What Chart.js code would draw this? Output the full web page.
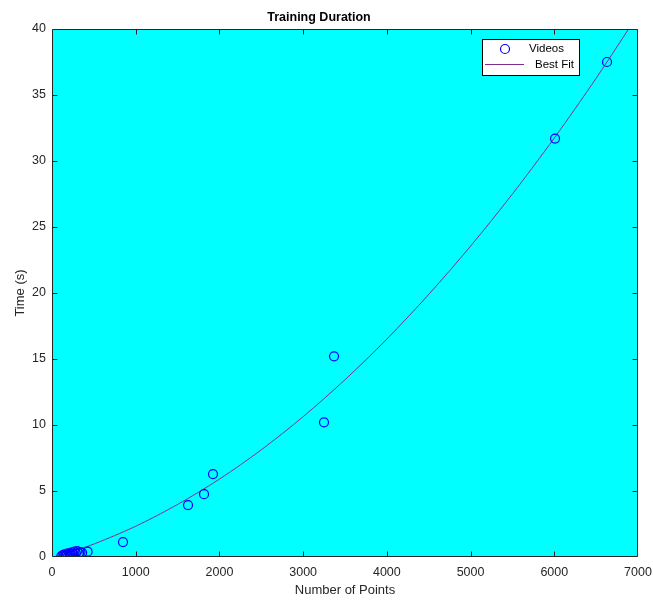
<!DOCTYPE html>
<html>
<head>
<meta charset="utf-8">
<title>Training Duration</title>
<script src="https://cdn.jsdelivr.net/npm/chart.js@4/dist/chart.umd.min.js"></script>
<style>
    html, body { margin: 0; padding: 0; background: #ffffff; }
    canvas { display: block; }
</style>
</head>
<body>
<canvas id="trainingChart" width="653" height="607"></canvas>
<script>
// Mesures : nombre de points par vidéo et temps d'entraînement (s)
const videoPoints = [110, 125, 140, 150, 165, 180, 195, 210, 225, 240, 255, 270, 285, 300, 320, 340, 360, 425,
    848, 1625, 1816, 1923, 3249, 3369, 6009, 6630];
const videoTimes = [0.05, 0.12, 0.08, 0.20, 0.15, 0.25, 0.12, 0.30, 0.20, 0.35, 0.22, 0.40, 0.28, 0.45, 0.30, 0.38, 0.32, 0.40,
    1.13, 3.93, 4.76, 6.28, 10.2, 15.2, 31.7, 37.5];

// Courbe d'ajustement (valeurs relevées tous les 500 points)
const fitPoints = [100, 500, 1000, 1500, 2000, 2500, 3000, 3500, 4000, 4500, 5000, 5500, 6000, 6500, 7000];
const fitTimes = [0.11, 0.98, 2.33, 3.98, 5.90, 8.12, 10.63, 13.43, 16.51, 19.89, 23.55, 27.50, 31.74, 36.27, 41.09];

// Axes
const xMin = 0, xMax = 7000, xStep = 1000;
const yMin = 0, yMax = 40, yStep = 5;

document.addEventListener('DOMContentLoaded', function () {

    const axisColor = '#262626';
    const plotBackground = '#00ffff';
    const fontFamily = '"Liberation Sans", Arial, Helvetica, sans-serif';

    // Fond cyan, cadre complet, graduations vers l'intérieur et légende encadrée
    const matlabAxes = {
        id: 'matlabAxes',
        beforeDatasetsDraw(chart) {
            const { ctx, chartArea: a } = chart;
            ctx.save();
            ctx.fillStyle = plotBackground;
            ctx.fillRect(a.left, a.top, a.right - a.left, a.bottom - a.top);
            ctx.restore();
        },
        afterDraw(chart) {
            const { ctx, chartArea: a, scales } = chart;
            const tickLen = 5;
            const left = Math.round(a.left) + 0.5, right = Math.round(a.right) - 0.5;
            const top = Math.round(a.top) + 0.5, bottom = Math.round(a.bottom) - 0.5;
            ctx.save();
            ctx.strokeStyle = axisColor;
            ctx.lineWidth = 1;
            ctx.beginPath();
            ctx.rect(left, top, right - left, bottom - top);
            ctx.stroke();

            ctx.beginPath();
            scales.x.ticks.forEach(t => {
                const px = Math.round(scales.x.getPixelForValue(t.value)) + 0.5;
                if (px <= left + 1 || px >= right - 1) return;
                ctx.moveTo(px, bottom);
                ctx.lineTo(px, bottom - tickLen);
                ctx.moveTo(px, top);
                ctx.lineTo(px, top + tickLen);
            });
            scales.y.ticks.forEach(t => {
                const py = Math.round(scales.y.getPixelForValue(t.value)) + 0.5;
                if (py <= top + 1 || py >= bottom - 1) return;
                ctx.moveTo(left, py);
                ctx.lineTo(left + tickLen, py);
                ctx.moveTo(right, py);
                ctx.lineTo(right - tickLen, py);
            });
            ctx.stroke();

            // Légende
            const box = { x: 482, y: 39, w: 97, h: 36 };
            ctx.fillStyle = '#ffffff';
            ctx.fillRect(box.x, box.y, box.w, box.h);
            ctx.strokeStyle = '#000000';
            ctx.strokeRect(box.x + 0.5, box.y + 0.5, box.w, box.h);

            const pts = chart.data.datasets[0];
            const fit = chart.data.datasets[1];
            ctx.strokeStyle = pts.borderColor;
            ctx.lineWidth = pts.pointBorderWidth;
            ctx.beginPath();
            ctx.arc(505, 49, pts.pointRadius, 0, Math.PI * 2);
            ctx.stroke();

            ctx.strokeStyle = fit.borderColor;
            ctx.lineWidth = fit.borderWidth;
            ctx.beginPath();
            ctx.moveTo(485, 64.5);
            ctx.lineTo(524, 64.5);
            ctx.stroke();

            ctx.fillStyle = '#000000';
            ctx.font = '11.5px ' + fontFamily;
            ctx.textBaseline = 'middle';
            ctx.textAlign = 'left';
            ctx.fillText(pts.label, 529, 49);
            ctx.fillText(fit.label, 535, 65);
            ctx.restore();
        }
    };

    const config = {
        type: 'scatter',
        data: {
            datasets: [
                {
                    label: 'Videos',
                    data: videoPoints.map((x, i) => ({ x: x, y: videoTimes[i] })),
                    showLine: false,
                    pointStyle: 'circle',
                    pointRadius: 4.5,
                    pointBorderWidth: 1.2,
                    borderColor: '#0000ff',
                    backgroundColor: 'rgba(0, 0, 0, 0)',
                    pointBackgroundColor: 'rgba(0, 0, 0, 0)'
                },
                {
                    label: 'Best Fit',
                    data: fitPoints.map((x, i) => ({ x: x, y: fitTimes[i] })),
                    showLine: true,
                    borderColor: '#7e2f8e',
                    borderWidth: 1,
                    pointRadius: 0,
                    tension: 0.3
                }
            ]
        },
        options: {
            responsive: false,
            animation: false,
            events: [],
            layout: { padding: { left: 0, right: 15, top: 0, bottom: 0 } },
            plugins: {
                legend: { display: false },
                tooltip: { enabled: false },
                title: {
                    display: true,
                    text: 'Training Duration',
                    color: '#000000',
                    font: { family: fontFamily, size: 12.5, weight: 'bold' },
                    padding: { top: 10, bottom: 4 }
                }
            },
            scales: {
                x: {
                    type: 'linear',
                    min: xMin,
                    max: xMax,
                    grid: { display: false, drawTicks: false },
                    border: { display: false },
                    ticks: {
                        stepSize: xStep,
                        color: axisColor,
                        padding: 8,
                        maxRotation: 0,
                        font: { family: fontFamily, size: 12.5 },
                        callback: value => String(value)
                    },
                    title: {
                        display: true,
                        text: 'Number of Points',
                        color: axisColor,
                        font: { family: fontFamily, size: 13 },
                        padding: { top: 0, bottom: 9 }
                    },
                    afterFit: function (scale) {
                        scale.height = 50;
                        scale.paddingLeft = 0;
                        scale.paddingRight = 0;
                    }
                },
                y: {
                    type: 'linear',
                    min: yMin,
                    max: yMax,
                    grid: { display: false, drawTicks: false },
                    border: { display: false },
                    ticks: {
                        stepSize: yStep,
                        color: axisColor,
                        padding: 6,
                        font: { family: fontFamily, size: 12.5 }
                    },
                    title: {
                        display: true,
                        text: 'Time (s)',
                        color: axisColor,
                        font: { family: fontFamily, size: 13 },
                        padding: { top: 13, bottom: 0 }
                    },
                    afterFit: function (scale) {
                        scale.width = 52;
                        scale.paddingTop = 0;
                        scale.paddingBottom = 0;
                    }
                }
            }
        },
        plugins: [matlabAxes]
    };

    const element = document.getElementById('trainingChart');
    if (!element) {
        console.warn('Element with ID trainingChart not found');
        return;
    }
    new Chart(element.getContext('2d'), config);
});
</script>
</body>
</html>
